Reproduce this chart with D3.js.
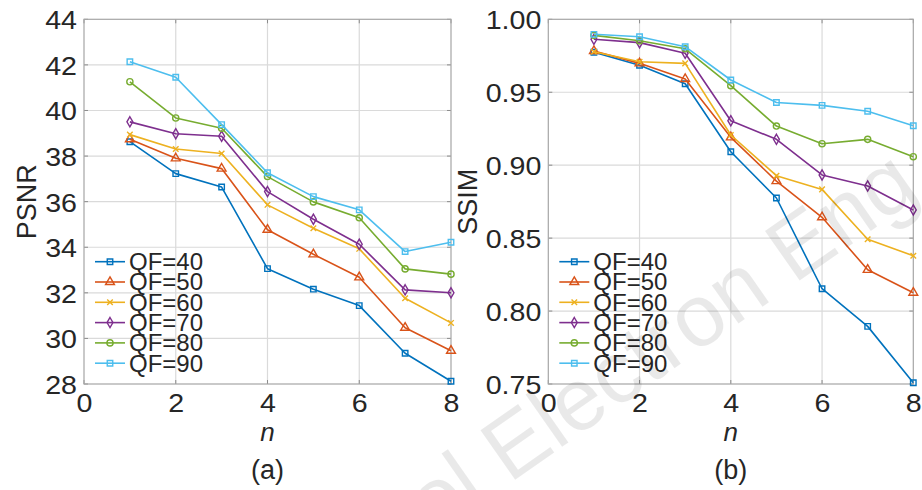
<!DOCTYPE html>
<html><head><meta charset="utf-8">
<script src="https://cdn.jsdelivr.net/npm/d3@7"></script>
<style>
body{margin:0;background:#fff;}
svg text{font-family:"Liberation Sans", Arial, Helvetica, sans-serif; fill:#262626;}
</style></head><body>
<svg id="c" width="922" height="490"></svg>
<script>
// ---------- data ----------
const nValues = [1, 2, 3, 4, 5, 6, 7, 8];
const seriesNames = ["QF=40", "QF=50", "QF=60", "QF=70", "QF=80", "QF=90"];

const psnrQF40 = [38.63, 37.23, 36.64, 33.06, 32.16, 31.44, 29.35, 28.12];
const psnrQF50 = [38.74, 37.90, 37.45, 34.77, 33.69, 32.68, 30.47, 29.46];
const psnrQF60 = [38.94, 38.31, 38.11, 35.86, 34.83, 33.93, 31.76, 30.68];
const psnrQF70 = [39.50, 38.98, 38.87, 36.44, 35.23, 34.13, 32.13, 32.00];
const psnrQF80 = [41.26, 39.67, 39.22, 37.10, 35.99, 35.29, 33.05, 32.82];
const psnrQF90 = [42.14, 41.46, 39.38, 37.27, 36.22, 35.64, 33.81, 34.22];

const ssimQF40 = [0.9774, 0.9685, 0.9558, 0.9092, 0.8775, 0.8153, 0.7895, 0.7509];
const ssimQF50 = [0.9783, 0.9698, 0.9591, 0.9191, 0.8891, 0.8643, 0.8283, 0.8126];
const ssimQF60 = [0.9778, 0.9709, 0.9698, 0.9207, 0.8928, 0.8834, 0.8492, 0.8379];
const ssimQF70 = [0.9863, 0.9840, 0.9767, 0.9305, 0.9177, 0.8933, 0.8857, 0.8693];
const ssimQF80 = [0.9890, 0.9853, 0.9798, 0.9545, 0.9268, 0.9147, 0.9177, 0.9058];
const ssimQF90 = [0.9897, 0.9880, 0.9812, 0.9584, 0.9430, 0.9410, 0.9370, 0.9270];

const xTicks = [0, 2, 4, 6, 8];
const psnrTicks = [28, 30, 32, 34, 36, 38, 40, 42, 44];
const ssimTicks = [0.75, 0.80, 0.85, 0.90, 0.95, 1.00];
const xLabel = "n";
const watermarkText = "Front Inform Technol Electron Eng";

// ---------- styles ----------
const colors = ["#0072BD", "#D95319", "#EDB120", "#7E2F8E", "#77AC30", "#4DBEEE"];
const symbols = [d3.symbolSquare, d3.symbolTriangle, d3.symbolTimes, d3.symbolDiamond, d3.symbolCircle, d3.symbolSquare];
const symSizes = [30, 34, 22, 30, 30, 30];
const sx = 1.1; // horizontal stretch of tick labels

const svg = d3.select("#c");

const panels = [
  {left: 84, right: 451, top: 19.3, bottom: 384, domain: [28, 44], ticks: psnrTicks,
   fmt: d3.format("d"), ylabel: "PSNR", ylabelX: 27, tag: "(a)",
   data: [psnrQF40, psnrQF50, psnrQF60, psnrQF70, psnrQF80, psnrQF90]},
  {left: 548.3, right: 913.3, top: 19.3, bottom: 384, domain: [0.75, 1.0], ticks: ssimTicks,
   fmt: d3.format(".2f"), ylabel: "SSIM", ylabelX: 468, tag: "(b)",
   data: [ssimQF40, ssimQF50, ssimQF60, ssimQF70, ssimQF80, ssimQF90]}
];

panels.forEach(p => {
  const x = d3.scaleLinear().domain([0, 8]).range([p.left, p.right]);
  const y = d3.scaleLinear().domain(p.domain).range([p.bottom, p.top]);
  const g = svg.append("g");

  // grid
  g.append("g").selectAll("line").data(xTicks.slice(1, -1)).join("line")
    .attr("x1", d => x(d)).attr("x2", d => x(d))
    .attr("y1", p.top).attr("y2", p.bottom)
    .attr("stroke", "#dadada").attr("stroke-width", 1.2);
  g.append("g").selectAll("line").data(p.ticks.slice(1, -1)).join("line")
    .attr("x1", p.left).attr("x2", p.right)
    .attr("y1", d => y(d)).attr("y2", d => y(d))
    .attr("stroke", "#dadada").attr("stroke-width", 1.2);

  // inner ticks
  const tl = 4;
  const tk = g.append("g").attr("stroke", "#8c8c8c").attr("stroke-width", 1);
  xTicks.forEach(t => {
    tk.append("line").attr("x1", x(t)).attr("x2", x(t)).attr("y1", p.bottom).attr("y2", p.bottom - tl);
    tk.append("line").attr("x1", x(t)).attr("x2", x(t)).attr("y1", p.top).attr("y2", p.top + tl);
  });
  p.ticks.forEach(t => {
    tk.append("line").attr("x1", p.left).attr("x2", p.left + tl).attr("y1", y(t)).attr("y2", y(t));
    tk.append("line").attr("x1", p.right).attr("x2", p.right - tl).attr("y1", y(t)).attr("y2", y(t));
  });

  // frame
  g.append("rect").attr("x", p.left).attr("y", p.top)
    .attr("width", p.right - p.left).attr("height", p.bottom - p.top)
    .attr("fill", "none").attr("stroke", "#a6a6a6").attr("stroke-width", 1.2);

  // axes (labels only)
  const ax = g.append("g").attr("transform", `translate(0,${p.bottom})`)
    .call(d3.axisBottom(x).tickValues(xTicks).tickSize(0).tickPadding(0).tickFormat(d3.format("d")));
  ax.select(".domain").remove();
  ax.selectAll("text").attr("y", 28).attr("dy", null).attr("transform", `scale(${sx},1)`)
    .style("font-size", "26px").attr("fill", "#262626");

  const ay = g.append("g").attr("transform", `translate(${p.left},0)`)
    .call(d3.axisLeft(y).tickValues(p.ticks).tickSize(0).tickPadding(0).tickFormat(p.fmt));
  ay.select(".domain").remove();
  ay.selectAll("text").attr("x", -7 / sx).attr("dy", null).attr("y", 9.5)
    .attr("transform", `scale(${sx},1)`)
    .style("font-size", "26px").attr("fill", "#262626");

  // series
  const line = d3.line().x((d, i) => x(nValues[i])).y(d => y(d));
  p.data.forEach((vals, si) => {
    g.append("path").datum(vals).attr("d", line)
      .attr("fill", "none").attr("stroke", colors[si]).attr("stroke-width", 1.6)
      .attr("stroke-linejoin", "round");
    g.append("g").selectAll("path").data(vals).join("path")
      .attr("transform", (d, i) => `translate(${x(nValues[i])},${y(d)})`)
      .attr("d", d3.symbol().type(symbols[si]).size(symSizes[si]))
      .attr("fill", "none").attr("stroke", colors[si]).attr("stroke-width", 1.4);
  });

  // legend
  const lg = g.append("g");
  seriesNames.forEach((name, si) => {
    const ly = 261.7 + si * 20.3;
    lg.append("line").attr("x1", p.left + 11).attr("x2", p.left + 41).attr("y1", ly).attr("y2", ly)
      .attr("stroke", colors[si]).attr("stroke-width", 1.6);
    lg.append("path").attr("transform", `translate(${p.left + 26},${ly})`)
      .attr("d", d3.symbol().type(symbols[si]).size(symSizes[si]))
      .attr("fill", "none").attr("stroke", colors[si]).attr("stroke-width", 1.4);
    lg.append("text").attr("x", p.left + 45).attr("y", ly).attr("dy", "0.35em")
      .style("font-size", "24px").text(name);
  });

  // axis labels
  const cy = (p.top + p.bottom) / 2;
  g.append("text").attr("transform", `translate(${p.ylabelX},${cy}) rotate(-90)`)
    .attr("text-anchor", "middle").attr("dy", "0.35em").style("font-size", "27px").text(p.ylabel);
  const cx = (p.left + p.right) / 2;
  g.append("text").attr("x", cx).attr("y", 441).attr("text-anchor", "middle")
    .style("font-size", "26px").style("font-style", "italic").text(xLabel);
  g.append("text").attr("x", cx).attr("y", 479).attr("text-anchor", "middle")
    .style("font-size", "27px").text(p.tag);
});

// watermark
svg.append("text").attr("transform", "translate(922,195) rotate(-35)")
  .attr("text-anchor", "end").style("font-size", "88px")
  .style("fill", "#000").style("fill-opacity", 0.085).text(watermarkText);
</script>
</body></html>
